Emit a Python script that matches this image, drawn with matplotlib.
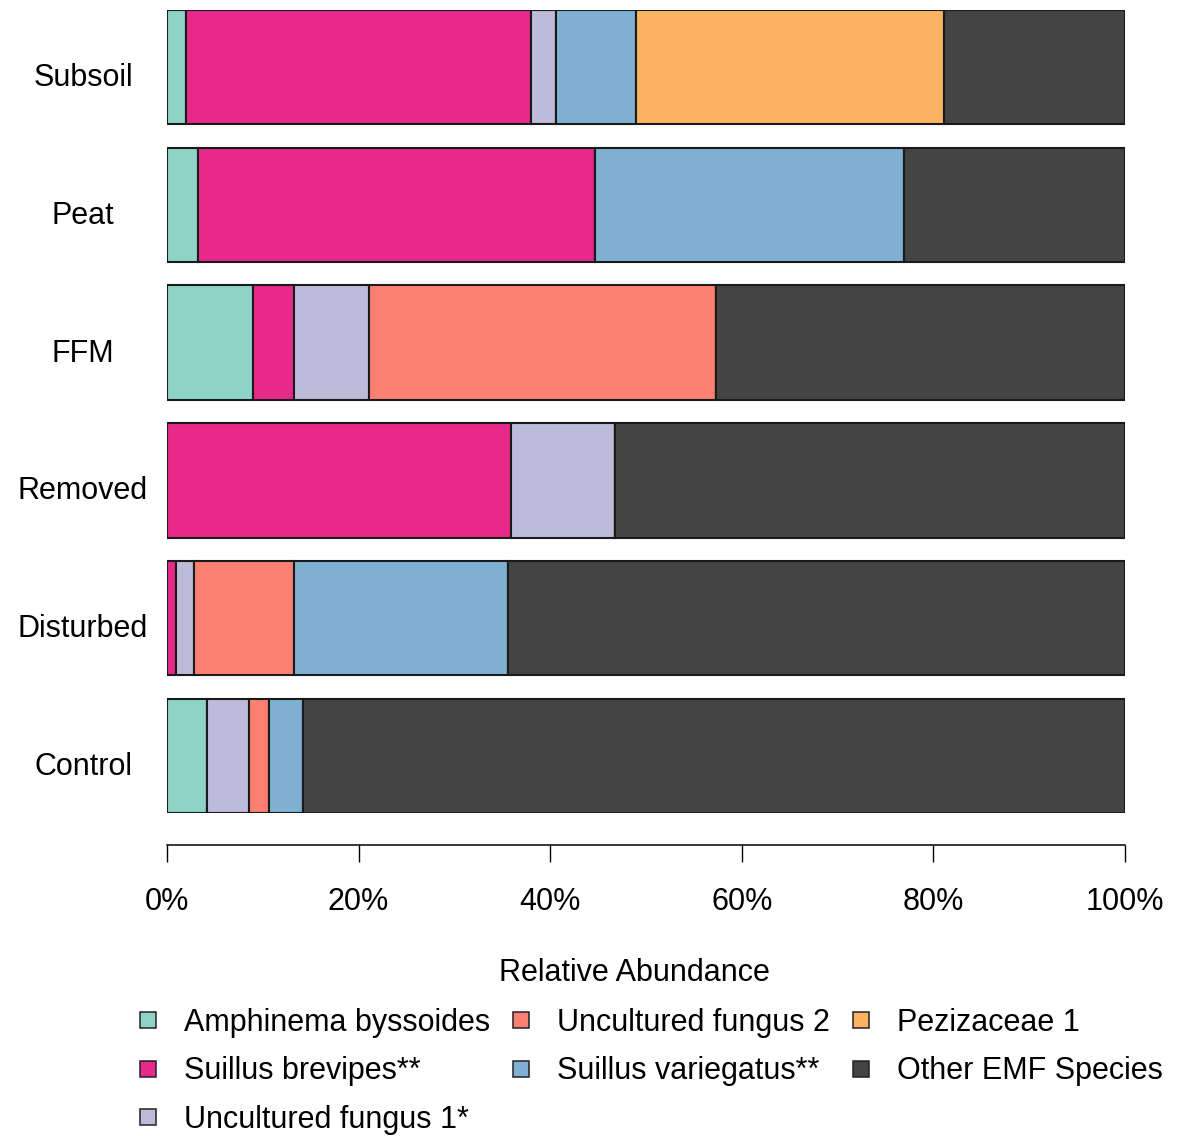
import matplotlib
matplotlib.use("Agg")
import matplotlib.pyplot as plt
import matplotlib.transforms as mtransforms
from matplotlib.lines import Line2D
import numpy as np

plt.rcParams['font.family'] = ['Liberation Sans', 'DejaVu Sans']

# Treatments, top to bottom
treatments = ["Subsoil", "Peat", "FFM", "Removed", "Disturbed", "Control"]

# Taxa (stacking order, left to right)
taxa = ["Amphinema byssoides", "Suillus brevipes**", "Uncultured fungus 1*",
        "Uncultured fungus 2", "Suillus variegatus**", "Pezizaceae 1",
        "Other EMF Species"]
colors = ["#8DD3C7", "#E7298A", "#BEBADA", "#FB8072", "#80B1D3", "#FDB462",
          "#444444"]

# Relative abundance (%) per treatment, one list per taxon
amphinema = [1.95, 3.25, 8.95, 0.0, 0.0, 4.2]
brevipes = [36.0, 41.4, 4.35, 35.9, 0.9, 0.0]
uncultured1 = [2.7, 0.0, 7.75, 10.9, 1.9, 4.4]
uncultured2 = [0.0, 0.0, 36.25, 0.0, 10.45, 2.05]
variegatus = [8.3, 32.3, 0.0, 0.0, 22.3, 3.5]
pezizaceae = [32.15, 0.0, 0.0, 0.0, 0.0, 0.0]
other = [18.9, 23.05, 42.7, 53.2, 64.45, 85.85]

series = [amphinema, brevipes, uncultured1, uncultured2, variegatus,
          pezizaceae, other]

FS = 22
W, H, DPI = 1178, 1136, 100
fig = plt.figure(figsize=(W / DPI, H / DPI), dpi=DPI)

# plot region in pixel terms
x0, x1 = 167, 1125
ytop, ybot = 10, 813
ax = fig.add_axes([x0 / W, 1 - ybot / H, (x1 - x0) / W, (ybot - ytop) / H])

ypos = np.arange(len(treatments))
bar_h = 0.83
left = np.zeros(len(treatments))
for vals, col in zip(series, colors):
    v = np.array(vals) / 100.0
    ax.barh(ypos, v, left=left, height=bar_h, color=col,
            edgecolor="#1a1a1a", linewidth=1.5)
    left += v

ax.set_xlim(0, 1)
ax.set_ylim(len(treatments) - 1 + bar_h / 2, -bar_h / 2)

for s in ["top", "right", "left"]:
    ax.spines[s].set_visible(False)
ax.spines["bottom"].set_position(("outward", 23))
ax.spines["bottom"].set_bounds(0, 1)
ax.spines["bottom"].set_linewidth(1.1)
ax.set_yticks([])
ax.set_xticks(np.linspace(0, 1, 6))
ax.set_xticklabels([f"{int(t)}%" for t in np.linspace(0, 100, 6)])
ax.tick_params(axis="x", direction="out", length=12, width=1.0,
               pad=18, labelsize=FS)

# treatment labels
lbl_tr = mtransforms.offset_copy(
    mtransforms.blended_transform_factory(fig.transFigure, ax.transData),
    fig=fig, x=0, y=-19, units="dots")
for i, name in enumerate(treatments):
    ax.text(83 / W, i, name, transform=lbl_tr, ha="center", va="baseline",
            fontsize=FS, clip_on=False)

fig.text(634 / W, 1 - 973 / H, "Relative Abundance", ha="center",
         va="center", fontsize=FS)

handles = [Line2D([], [], marker="s", ls="", markersize=11.5,
                  markerfacecolor=c, markeredgecolor="#222222",
                  markeredgewidth=1.1) for c in colors]
fig.legend(handles, taxa, loc="upper left",
           bbox_to_anchor=(133 / W, 1 - 1008 / H), ncol=3, frameon=False,
           fontsize=FS, handlelength=1.0, handletextpad=0.68,
           columnspacing=0.5, labelspacing=0.6, borderpad=0,
           borderaxespad=0)

fig.savefig("out.png", dpi=DPI, facecolor="white")
